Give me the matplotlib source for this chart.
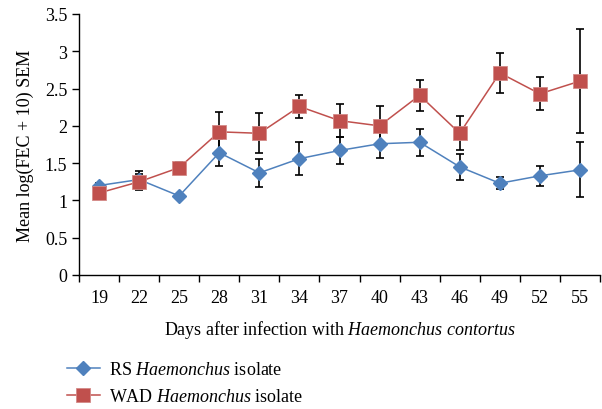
import matplotlib
matplotlib.use("Agg")
import matplotlib.pyplot as plt
import numpy as np
from matplotlib.ticker import FuncFormatter, FixedLocator

plt.rcParams['font.family'] = ['Liberation Serif', 'DejaVu Serif']
plt.rcParams['mathtext.fontset'] = 'custom'
plt.rcParams['mathtext.rm'] = 'Liberation Serif'
plt.rcParams['mathtext.it'] = 'Liberation Serif:italic'

days = [19, 22, 25, 28, 31, 34, 37, 40, 43, 46, 49, 52, 55]
rs_mean = [1.20, 1.28, 1.06, 1.64, 1.37, 1.56, 1.67, 1.76, 1.78, 1.45, 1.23, 1.33, 1.41]
rs_sem = [0.03, 0.12, 0.02, 0.18, 0.19, 0.22, 0.18, 0.19, 0.18, 0.17, 0.08, 0.13, 0.37]
wad_mean = [1.10, 1.25, 1.44, 1.92, 1.90, 2.26, 2.07, 2.00, 2.41, 1.90, 2.71, 2.43, 2.60]
wad_sem = [0.03, 0.11, 0.08, 0.27, 0.27, 0.15, 0.22, 0.27, 0.21, 0.23, 0.27, 0.22, 0.70]

blue = '#4F81BD'
red = '#C0504D'

fig = plt.figure(figsize=(6.02, 4.10), dpi=100)
ax = fig.add_axes([79/602, 1-276/410, 521/602, 261/410])

x = np.arange(len(days))

ax.errorbar(x, rs_mean, yerr=rs_sem, fmt='none', ecolor='black',
            elinewidth=1.2, capsize=3, capthick=1.2, zorder=2)
ax.errorbar(x, wad_mean, yerr=wad_sem, fmt='none', ecolor='black',
            elinewidth=1.2, capsize=3, capthick=1.2, zorder=2)
l1, = ax.plot(x, rs_mean, color=blue, lw=1.1, marker='D', ms=7,
              mfc=blue, mec=blue, zorder=3)
l2, = ax.plot(x, wad_mean, color=red, lw=1.1, marker='s', ms=9.5,
              mfc=red, mec='#D48A88', mew=0.6, zorder=3)

ax.set_xlim(-0.5, len(days) - 0.5)
ax.set_ylim(0, 3.5)
ax.set_xticks(x)
ax.set_xticklabels([str(d) for d in days], fontsize=13)
ax.xaxis.set_minor_locator(FixedLocator(np.arange(-0.5, len(days), 1.0)))
ax.tick_params(axis='x', which='major', length=0, pad=10)
ax.tick_params(axis='x', which='minor', length=5, width=1, direction='out')
ax.set_yticks(np.arange(0, 3.51, 0.5))
ax.yaxis.set_major_formatter(FuncFormatter(lambda v, p: '%g' % v))
ax.tick_params(axis='y', length=5, width=1, direction='out', labelsize=13)

for s in ['top', 'right']:
    ax.spines[s].set_visible(False)
for s in ['left', 'bottom']:
    ax.spines[s].set_color('black')
    ax.spines[s].set_linewidth(1)

ax.set_ylabel('Mean log(FEC + 10) SEM', fontsize=13, labelpad=8)
ax.set_xlabel(r'Days after infection with $\mathit{Haemonchus\ contortus}$',
              fontsize=13, labelpad=9)

fig.legend([l1, l2],
           [r'RS $\mathit{Haemonchus}$ isolate', r'WAD $\mathit{Haemonchus}$ isolate'],
           loc='upper left', bbox_to_anchor=(67/602, 1-362/410),
           frameon=False, fontsize=13, handlelength=1.8, labelspacing=0.55,
           handletextpad=0.55, borderaxespad=0, borderpad=0)

fig.savefig('out.png', dpi=100)
